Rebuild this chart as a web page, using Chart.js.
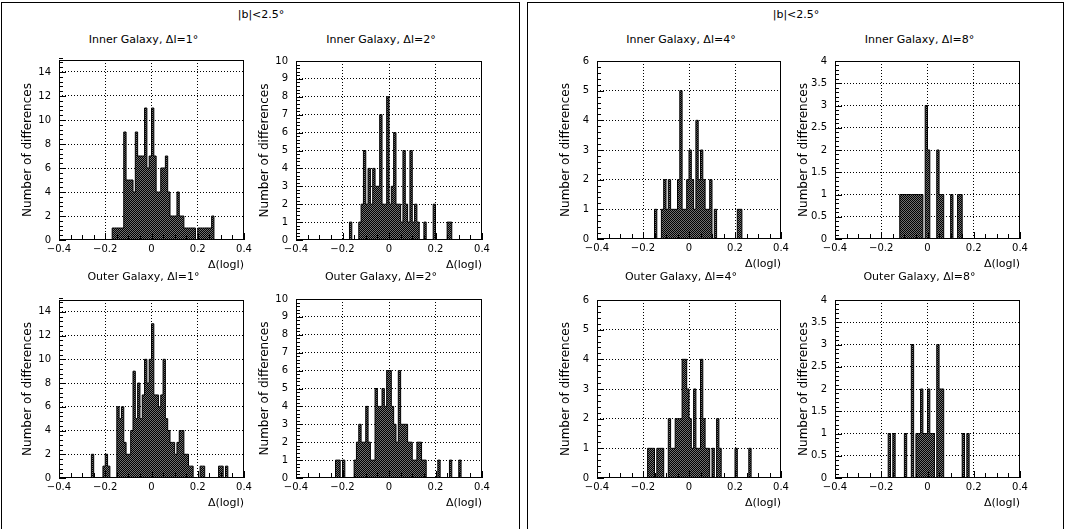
<!DOCTYPE html>
<html>
<head>
<meta charset="utf-8">
<title>Differences histograms</title>
<script src="https://cdn.jsdelivr.net/npm/chart.js@4.4.1/dist/chart.umd.min.js"></script>
<style>
	html, body { margin: 0; padding: 0; background: #fff; }
	body { width: 1065px; height: 529px; position: relative; overflow: hidden; font-family: "DejaVu Sans", sans-serif; }
	.panel { position: absolute; top: 2px; height: 600px; border: 1px solid #000; box-sizing: border-box; }
	.box { position: absolute; }
	.label { position: absolute; transform: translate(-50%, -50%); white-space: nowrap; font-size: 11px; color: #000; }
</style>
</head>
<body>

<div class="panel" style="left:1px; width:519px;"></div>
<div class="panel" style="left:527px; width:537px;"></div>

<script>
// DATA

const binWidth = 0.01;
const xMin = -0.4;
const xMax = 0.4;

const panelTitle = '|b|<2.5°';
const xTitle = 'Δ(logI)';
const yTitle = 'Number of differences';

// counts per 0.01 bin, starting at the given left edge
const inner1Start = -0.17;
const inner1 = [1,1,1,1,1,9,5,5,5,4,9,7,7,7,11,6,7,11,7,4,4,6,6,7,4,2,2,2,4,2,2,1,1,1,1,1,0,1,1,1,1,1,1,2];

const inner2Start = -0.17;
const inner2 = [1,0,0,0,1,2,5,2,4,2,4,3,3,7,2,2,8,2,3,6,2,2,1,5,2,1,5,1,2,1,0,0,1,0,0,0,2,0,0,0,0,0,1,1];

const outer1Start = -0.26;
const outer1 = [2,0,0,0,0,1,2,1,0,0,0,6,5,6,3,2,2,4,9,5,8,5,7,10,8,10,13,7,7,6,7,10,5,4,3,3,2,3,4,4,2,2,1,1,0,0,0,1,1,0,0,0,0,0,0,1,1,0,1];

const outer2Start = -0.23;
const outer2 = [1,1,0,1,0,0,0,0,1,2,3,2,2,4,2,1,1,5,4,4,5,4,6,6,4,3,2,6,3,3,3,2,2,1,1,2,2,1,1,0,0,0,0,0,1,0,0,0,0,1,0,0,0,1];

const inner4Start = -0.15;
const inner4 = [1,0,0,1,2,1,2,1,1,1,2,5,1,1,2,3,2,1,4,2,3,2,1,1,2,0,1,0,0,0,0,0,0,0,0,0,1,1];

const inner8Start = -0.12;
const inner8 = [1,1,1,1,1,1,1,1,1,1,0,3,2,0,0,0,2,1,1,0,0,0,1,0,0,1,1];

const outer4Start = -0.18;
const outer4 = [1,1,1,0,1,1,1,0,0,2,1,1,2,2,2,4,4,3,2,1,3,1,1,4,2,1,1,0,1,0,2,1,0,0,0,0,0,0,1,0,0,0,0,0,1];

const outer8Start = -0.17;
const outer8 = [1,0,1,0,0,0,0,1,0,0,3,0,1,1,2,1,1,2,1,1,0,3,2,2,0,0,0,0,0,0,0,0,1,0,1];

const titles = [
	'Inner Galaxy, Δl=1°', 'Inner Galaxy, Δl=2°', 'Outer Galaxy, Δl=1°', 'Outer Galaxy, Δl=2°',
	'Inner Galaxy, Δl=4°', 'Inner Galaxy, Δl=8°', 'Outer Galaxy, Δl=4°', 'Outer Galaxy, Δl=8°'
];
const yMaxes = [15, 10, 15, 10, 6, 4, 6, 4];
const yStepsLabel = [2, 1, 2, 1, 1, 0.5, 1, 0.5];

// LAYOUT (plot area of every histogram)

const plots = [
	{ left: 59,  top: 54,  width: 185, height: 186, start: inner1Start, counts: inner1 },
	{ left: 296, top: 55,  width: 186, height: 185, start: inner2Start, counts: inner2 },
	{ left: 59,  top: 294, width: 185, height: 184, start: outer1Start, counts: outer1 },
	{ left: 296, top: 293, width: 186, height: 185, start: outer2Start, counts: outer2 },
	{ left: 597, top: 55,  width: 184, height: 184, start: inner4Start, counts: inner4 },
	{ left: 835, top: 55,  width: 185, height: 184, start: inner8Start, counts: inner8 },
	{ left: 597, top: 294, width: 184, height: 184, start: outer4Start, counts: outer4 },
	{ left: 835, top: 294, width: 185, height: 184, start: outer8Start, counts: outer8 }
];

const AXIS_W = 38, AXIS_H = 32, PAD_T = 8, PAD_R = 12;

Chart.defaults.font.family = '"DejaVu Sans", sans-serif';
Chart.defaults.color = '#000';

// HELPERS

function addLabel(text, x, y) {
	const el = document.createElement('div');
	el.className = 'label';
	el.style.left = x + 'px';
	el.style.top = y + 'px';
	el.textContent = text;
	document.body.appendChild(el);
}

function histPoints(start, counts) {
	const pts = [{ x: xMin, y: 0 }];
	counts.forEach((c, i) => pts.push({ x: start + i * binWidth, y: c }));
	pts.push({ x: start + counts.length * binWidth, y: 0 });
	pts.push({ x: xMax, y: 0 });
	return pts;
}

function hatchPattern(ctx) {
	const tile = document.createElement('canvas');
	tile.width = 2;
	tile.height = 2;
	const t = tile.getContext('2d');
	t.fillStyle = '#707070';
	t.fillRect(0, 0, 2, 2);
	t.fillStyle = '#000';
	t.fillRect(0, 0, 1, 1);
	t.fillRect(1, 1, 1, 1);
	return ctx.createPattern(tile, 'repeat');
}

function fmtX(v) {
	if (Math.abs(v) < 1e-9) return '0';
	return v.toFixed(1).replace('-', '\u2212');
}

function fmtY(v) {
	return String(Math.round(v * 100) / 100);
}

// frame and inward ticks, PAW style
const frameTicks = {
	id: 'frameTicks',
	afterDraw(chart, args, opts) {
		const { ctx, chartArea: a, scales: { x, y } } = chart;
		ctx.save();
		ctx.strokeStyle = '#000';
		ctx.lineWidth = 1;
		ctx.beginPath();
		const yMinor = opts.yStep / 5;
		const nY = Math.round(y.max / yMinor);
		for (let k = 0; k <= nY; k++) {
			const py = Math.round(y.getPixelForValue(k * yMinor)) + 0.5;
			const len = k % 5 === 0 ? 7 : 4;
			ctx.moveTo(a.left, py);
			ctx.lineTo(a.left + len, py);
		}
		for (let k = -8; k <= 8; k++) {
			const px = Math.round(x.getPixelForValue(k * 0.05)) + 0.5;
			const len = k % 4 === 0 ? 7 : 5;
			ctx.moveTo(px, a.bottom);
			ctx.lineTo(px, a.bottom - len);
		}
		ctx.stroke();
		ctx.strokeRect(Math.round(a.left) + 0.5, Math.round(a.top) + 0.5,
			Math.round(a.right - a.left) - 1, Math.round(a.bottom - a.top) - 1);
		ctx.restore();
	}
};

// BUILD CHARTS

plots.forEach((p, i) => {
	const box = document.createElement('div');
	box.className = 'box';
	box.style.left = (p.left - AXIS_W) + 'px';
	box.style.top = (p.top - PAD_T) + 'px';
	box.style.width = (p.width + AXIS_W + PAD_R) + 'px';
	box.style.height = (p.height + PAD_T + AXIS_H) + 'px';
	const canvas = document.createElement('canvas');
	box.appendChild(canvas);
	document.body.appendChild(box);

	const yMax = yMaxes[i];
	const yStep = yStepsLabel[i];

	new Chart(canvas, {
		type: 'line',
		data: {
			datasets: [{
				data: histPoints(p.start, p.counts),
				stepped: true,
				fill: 'origin',
				borderColor: '#000',
				borderWidth: 1,
				backgroundColor: hatchPattern(canvas.getContext('2d')),
				pointRadius: 0,
				tension: 0
			}]
		},
		options: {
			responsive: true,
			maintainAspectRatio: false,
			animation: false,
			events: [],
			layout: { padding: { top: PAD_T, right: PAD_R, left: 0, bottom: 0 } },
			plugins: {
				legend: { display: false },
				tooltip: { enabled: false },
				frameTicks: { yStep: yStep }
			},
			scales: {
				x: {
					type: 'linear',
					min: xMin,
					max: xMax,
					afterFit: s => { s.height = AXIS_H; },
					ticks: { stepSize: 0.2, padding: 3, font: { size: 10 }, maxRotation: 0, callback: fmtX },
					grid: {
						drawTicks: false,
						color: c => (Math.abs(c.tick.value) > 0.39 ? 'rgba(0,0,0,0)' : '#000')
					},
					border: { display: false, dash: [1, 2] },
					title: { display: true, text: xTitle, align: 'end', font: { size: 11 }, padding: 0 }
				},
				y: {
					min: 0,
					max: yMax,
					afterFit: s => { s.width = AXIS_W; },
					ticks: { stepSize: yStep, includeBounds: false, padding: 8, font: { size: 10 }, callback: fmtY },
					grid: {
						drawTicks: false,
						color: c => (c.tick.value < 1e-9 || c.tick.value > yMax - 1e-9 ? 'rgba(0,0,0,0)' : '#000')
					},
					border: { display: false, dash: [1, 2] },
					title: { display: true, text: yTitle, font: { size: 12 }, padding: 0 }
				}
			}
		},
		plugins: [frameTicks]
	});

	const titleY = i % 4 < 2 ? 39 : 276;
	addLabel(titles[i], p.left + p.width / 2 - 8, titleY);
});

addLabel(panelTitle, 261, 14);
addLabel(panelTitle, 796, 14);
</script>
</body>
</html>
